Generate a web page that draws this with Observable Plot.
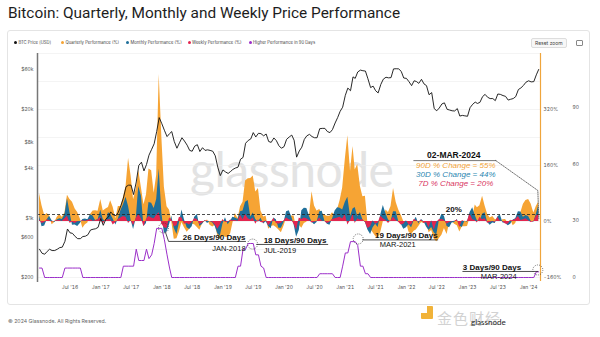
<!DOCTYPE html>
<html><head><meta charset="utf-8">
<script src="https://cdn.jsdelivr.net/npm/d3@7"></script>
<script src="https://cdn.jsdelivr.net/npm/@observablehq/plot@0.6"></script>
<style>
body{margin:0;background:#fff;}
#page{position:relative;width:600px;height:337px;overflow:hidden;font-family:"Liberation Sans",Roboto,sans-serif;}
#title{position:absolute;left:8px;top:4px;font-family:Roboto,sans-serif;font-size:15.4px;color:#1d1d1d;white-space:nowrap;}
#card{position:absolute;left:7px;top:30px;width:583px;height:275px;border:1px solid #e4e4e4;border-radius:3px;box-sizing:border-box;}
.leg{position:absolute;top:39.5px;font-size:4.2px;color:#444;white-space:nowrap;font-family:Inter,sans-serif;}
.dot{display:inline-block;width:3px;height:3px;border-radius:50%;margin-right:1.5px;vertical-align:middle;}
#reset{position:absolute;left:531px;top:38px;font-size:5px;color:#444;border:0.5px solid #ddd;border-radius:2px;padding:1px 3px;background:#f7f7f7;font-family:Inter,sans-serif;}
#menu{position:absolute;left:576px;top:40px;width:5px;height:4px;border:0.6px solid #888;border-radius:1px;}
#wm{position:absolute;left:190px;top:140px;font-family:Lato,sans-serif;font-size:48px;color:#e3e3e3;letter-spacing:-0.5px;}
#foot{position:absolute;left:8px;top:318px;font-size:5.2px;color:#666;font-family:Inter,sans-serif;}
#logo1{position:absolute;left:421px;top:306px;width:12px;height:13px;background:#f1b339;border-radius:1px;}
#logo1 i{position:absolute;left:0;top:0;width:6px;height:7px;background:#fff;}
#logo2{position:absolute;left:437px;top:307px;font-family:"Noto Sans CJK SC",sans-serif;font-size:15px;color:#d2d2d2;letter-spacing:1px;}
#logo3{position:absolute;left:471px;top:317px;font-family:Lato,sans-serif;font-size:8px;color:#222;}
#plots svg{position:absolute;left:0;top:0;}
</style></head>
<body><div id="page">
<div id="title">Bitcoin: Quarterly, Monthly and Weekly Price Performance</div>
<div id="card"></div>
<div id="wm">glassnode</div>
<div class="leg" style="left:14px"><span class="dot" style="background:#111"></span>BTC Price [USD]</div>
<div class="leg" style="left:61px"><span class="dot" style="background:#f6a434"></span>Quarterly Performance (%)</div>
<div class="leg" style="left:126px"><span class="dot" style="background:#1f6f9a"></span>Monthly Performance (%)</div>
<div class="leg" style="left:187.5px"><span class="dot" style="background:#e3254f"></span>Weekly Performance (%)</div>
<div class="leg" style="left:248.5px"><span class="dot" style="background:#9b2fc9"></span>Higher Performance in 90 Days</div>
<div id="reset">Reset zoom</div><div id="menu"></div>
<div id="plots" style="position:absolute;left:0;top:0;width:600px;height:300px;"></div>
<div id="foot">© 2024 Glassnode. All Rights Reserved.</div>
<div id="logo1"><i></i></div><div id="logo2">金色财经</div><div id="logo3">glassnode</div>
</div>
<script>
// semi-monthly samples (1st and 16th of each month), Jan 2016 .. Mar 2024
const priceUSD = [
 430,385,375,405,430,415,415,430,450,455,535,750,675,665,610,575,575,610,615,640,730,745,755,785,
 1000,830,990,1040,1200,1110,1080,1190,1420,1750,2400,2500,2500,1930,2730,4300,4700,3700,4400,5700,6700,7800,10900,16000,
 13500,11300,9500,10300,10900,8300,6900,8000,9200,8400,7500,6500,6350,7300,7600,6300,7000,6500,6600,6500,6350,5600,4100,3250,
 3800,3600,3450,3650,3850,4000,4100,5100,5350,7900,8550,8900,10600,9400,10400,10300,9700,10200,8300,8100,9150,8500,7400,6900,
 7200,8800,9400,9900,8600,5400,6400,7100,8800,9700,10100,9500,9200,9200,11800,11900,11900,10900,10600,11500,13800,16000,19000,21300,
 29500,36000,33500,49000,47000,56000,59000,58000,57500,46500,36500,38000,33500,31500,39800,46000,48500,47700,48000,61000,61300,61000,57000,47500,
 47000,43000,38500,44000,43200,41000,45800,40400,38500,30000,31800,20500,19300,20800,23300,24000,20100,19700,19300,19200,20500,16700,17000,16800,
 16600,21000,23100,24500,23600,24300,28500,30300,28000,27000,27000,25500,30600,30300,29300,28700,25900,26500,27000,28500,34600,36200,38700,42300,
 44000,42700,43000,51800,60000];
const quarterlyPct = [
 79,45,17,23,16,-9,-3,12,20,12,24,75,63,55,36,26,7,-19,-9,-4,20,30,31,29,
 63,30,36,40,59,41,8,43,43,68,100,180,131,62,92,146,96,48,76,150,145,81,132,420,
 240,98,42,32,0,-51,-49,-29,-3,-18,-31,-22,-8,-9,-17,-25,-7,0,4,-11,-16,-11,-41,-50,
 -42,-45,-46,-35,-6,23,8,42,55,116,122,123,130,84,94,30,13,15,-22,-14,-12,-17,-24,-32,
 -13,9,3,16,16,-22,-11,-19,-6,-2,17,85,44,30,34,23,18,15,15,25,17,34,60,95,
 178,245,143,214,147,163,100,71,72,-5,-22,-32,-43,-49,-31,-1,33,26,43,94,54,33,18,0,
 -2,-30,-37,-28,-24,-14,-3,-6,0,-32,-26,-50,-58,-49,-39,-20,-37,-4,0,-8,-12,-30,-15,-15,
 -14,9,13,47,39,45,72,44,21,10,14,5,7,0,5,6,-4,4,-12,-6,18,26,49,60,
 63,50,24,43,55];
const monthlyPct = [
 16,-15,-13,5,15,2,-3,4,8,6,19,65,26,-11,-10,-14,-6,6,7,5,19,16,3,5,
 32,6,-1,25,21,7,-10,7,31,47,69,43,4,-23,9,100,72,-14,-6,54,52,37,63,150,
 24,-34,-30,-9,15,-19,-37,-4,33,5,-18,-23,-15,12,20,-14,-8,3,-6,0,-4,-14,-35,-42,
 -7,11,-9,1,12,10,6,28,30,55,60,13,24,6,-2,10,-7,-1,-14,-21,10,5,-19,-19,
 -3,28,31,13,-9,-45,-26,31,38,37,15,-2,-9,-3,28,29,1,-8,-11,6,30,39,38,33,
 55,69,14,36,40,14,26,4,-3,-24,-37,-18,-8,-17,19,46,22,4,-1,28,28,0,-7,-22,
 -18,-9,-18,2,12,-7,6,-1,-16,-26,-17,-32,-39,1,21,15,-14,-18,-4,-3,6,-13,-17,1,
 -2,25,39,17,2,-1,21,25,-2,-11,-4,-6,13,19,-4,-5,-12,-8,4,8,28,27,12,17,
 14,1,-2,21,44];
const weeklyPct = [
 4,-6,-3,5,3,-2,1,2,3,0,8,15,-5,-2,-6,-1,0,2,1,3,6,1,2,5,
 12,-8,5,4,6,-10,-3,6,10,14,12,-6,3,-12,9,20,8,-15,6,14,10,8,18,25,
 -8,-18,-20,10,5,-15,-12,12,10,-8,-6,-10,-3,8,6,-9,-4,2,1,0,-2,-10,-22,-10,
 6,-3,-2,4,2,3,1,18,5,20,8,4,10,-8,5,-3,-4,3,-12,-3,9,-6,-8,-5,
 2,10,5,3,-8,-25,10,6,10,8,3,-4,-2,0,10,1,0,-6,-2,6,8,10,12,7,
 20,-10,3,20,-6,8,4,5,-3,-20,-15,2,-8,-4,15,8,3,-6,2,12,3,-2,-10,-8,
 2,-9,-10,6,3,-2,4,-6,-3,-18,2,-25,-3,5,6,3,-8,-3,-1,1,4,-18,3,-1,
 1,22,5,3,-4,12,5,8,-5,-3,0,-3,12,1,-1,-7,-8,2,3,6,14,3,5,8,
 2,-3,-1,15,20];
const higherDays = [
 5,5,0,0,0,0,0,0,0,0,5,5,5,5,5,5,5,0,0,0,0,0,0,0,
 0,0,0,0,0,0,0,0,0,6,6,6,6,6,15,9,9,9,15,10,12,18,26,26,
 26,20,12,5,0,0,0,0,0,0,0,0,0,0,0,0,0,0,0,0,0,0,0,0,
 0,0,0,0,0,0,6,6,15,15,18,18,18,12,12,6,5,0,0,0,0,0,0,0,
 0,0,0,0,0,0,0,0,0,0,0,0,0,0,2,2,2,2,2,2,0,0,0,6,
 13,13,19,19,19,17,6,6,2,2,0,0,0,0,0,0,0,0,0,0,0,0,0,0,
 0,0,0,0,0,0,0,0,0,0,0,0,0,0,0,0,0,0,0,0,0,0,0,0,
 0,0,0,0,0,0,0,0,0,0,0,0,0,0,0,0,0,0,0,0,0,0,0,0,
 0,0,0,3,3];
const priceTicks = [200,600,1000,4000,8000,20000,60000];
const priceTickLabels = ["$200","$600","$1k","$4k","$8k","$20k","$60k"];
const perfTicks = [-160,0,160,320];
const perfGrid = [-160,-80,0,80,160,240,320,400,480];
const dayTicks = [0,30,60,90];
const xTickDates = ["2016-07-01","2017-01-01","2017-07-01","2018-01-01","2018-07-01","2019-01-01","2019-07-01","2020-01-01","2020-07-01","2021-01-01","2021-07-01","2022-01-01","2022-07-01","2023-01-01","2023-07-01","2024-01-01"];

const D = s => new Date(s + "T00:00:00Z");
const data = priceUSD.map((p, i) => ({
  date: new Date(Date.UTC(2016 + Math.floor(i / 24), Math.floor((i % 24) / 2), i % 2 ? 16 : 1)),
  price: p, q: quarterlyPct[i], m: monthlyPct[i], w: weeklyPct[i], days: higherDays[i]
}));
const xDomain = [D("2015-12-20"), D("2024-03-12")];
const base = {width: 600, height: 300, marginLeft: 37, marginRight: 60, marginTop: 53, marginBottom: 19,
  style: {background: "transparent", overflow: "visible", fontFamily: "Inter, sans-serif"}};
const AF = "'Liberation Sans', Arial, sans-serif";

// performance (right axis %)
const perf = Plot.plot({...base,
  x: {type: "utc", domain: xDomain},
  y: {domain: [-160, 320], range: [277, 109]},
  marks: [
    Plot.ruleY(perfGrid, {stroke: "#ececec", strokeWidth: 0.6}),
    Plot.areaY(data, {x: "date", y: "q", fill: "#f6a434"}),
    Plot.areaY(data, {x: "date", y: "m", fill: "#1f6f9a"}),
    Plot.areaY(data, {x: "date", y: "w", fill: "#e3254f"}),
    Plot.ruleY([20], {stroke: "#222", strokeDasharray: "3,2", strokeWidth: 0.8}),
    Plot.ruleX([xDomain[1]], {stroke: "#efa53c", strokeWidth: 1.2}),
    Plot.axisY({anchor: "right", ticks: perfTicks, tickFormat: d => d + "%", tickSize: 0, tickPadding: 3, label: null, fontSize: 5, fill: "#555"}),
    Plot.axisX({ticks: xTickDates.map(D), tickFormat: d3.utcFormat("%b '%y"), tickSize: 0, tickPadding: 4, label: null, fontSize: 5, fill: "#555"}),
    Plot.text([{d: D("2022-10-11"), v: 34}], {x: "d", y: "v", text: () => "20%", fontWeight: "bold", fontSize: 8, fill: "#111", fontFamily: AF}),
    Plot.text([{d: D("2022-10-11"), v: 188.6}], {x: "d", y: "v", text: () => "02-MAR-2024", fontWeight: "bold", fontSize: 8.5, fill: "#111", fontFamily: AF}),
    Plot.line([{d: D("2022-02-14"), v: 174}, {d: D("2023-06-19"), v: 174}], {x: "d", y: "v", stroke: "#555", strokeWidth: 0.8}),
    Plot.line([{d: D("2023-06-19"), v: 174}, {d: D("2024-02-25"), v: 88.6}, {d: D("2024-03-02"), v: 8.6}], {x: "d", y: "v", stroke: "#333", strokeWidth: 0.7, strokeDasharray: "1,1.2"}),
    Plot.text([
      {d: D("2022-10-23"), v: 160, t: "90D % Change = 55%", c: "#f2a43a"},
      {d: D("2022-10-23"), v: 134, t: "30D % Change = 44%", c: "#2a86b0"},
      {d: D("2022-10-23"), v: 108.6, t: "7D % Change = 20%", c: "#d9365f"}
    ], {x: "d", y: "v", text: "t", fill: "c", fontStyle: "italic", fontSize: 8, fontFamily: AF})
  ]});

// price (left log axis)
const priceP = Plot.plot({...base, marginBottom: 18,
  x: {type: "utc", domain: xDomain, axis: null},
  y: {type: "log", domain: [200, 60000], range: [276.6, 69], axis: null},
  marks: [
    Plot.ruleX([xDomain[0]], {stroke: "#777", strokeWidth: 1.5}),
    Plot.line(data, {x: "date", y: "price", stroke: "#111", strokeWidth: 0.9}),
    Plot.text(priceTicks, {y: d => d, text: (d, i) => priceTickLabels[i], frameAnchor: "left", textAnchor: "end", dx: -4, fontSize: 5, fill: "#555"})
  ]});

// days (far right axis)
const annoTxt = [
  {d: D("2019-05-16"), v: 21.4, t: "26 Days/90 Days", a: "end", w: "bold", s: 8},
  {d: D("2019-05-16"), v: 15.4, t: "JAN-2018", a: "end", w: "normal", s: 7.5},
  {d: D("2019-09-01"), v: 19.6, t: "18 Days/90 Days", a: "start", w: "bold", s: 8},
  {d: D("2019-09-01"), v: 14.0, t: "JUL-2019", a: "start", w: "normal", s: 7.5},
  {d: D("2022-07-07"), v: 22.5, t: "19 Days/90 Days", a: "end", w: "bold", s: 8},
  {d: D("2021-11-10"), v: 17.2, t: "MAR-2021", a: "middle", w: "normal", s: 7.5},
  {d: D("2022-12-04"), v: 5.3, t: "3 Days/90 Days", a: "start", w: "bold", s: 8},
  {d: D("2023-03-21"), v: 0.5, t: "MAR-2024", a: "start", w: "normal", s: 7.5}
];
const annoLines = [
  {k: 1, d: D("2018-01-23"), v: 23.8}, {k: 1, d: D("2018-02-10"), v: 19.1}, {k: 1, d: D("2019-05-16"), v: 19.1},
  {k: 2, d: D("2019-07-21"), v: 17.5}, {k: 2, d: D("2020-09-18"), v: 17.5},
  {k: 3, d: D("2021-04-15"), v: 19.9}, {k: 3, d: D("2022-07-07"), v: 19.9},
  {k: 4, d: D("2022-12-04"), v: 3.2}, {k: 4, d: D("2024-02-25"), v: 3.2}
];
const circles = [
  {d: D("2018-01-11"), v: 26.2}, {d: D("2019-06-27"), v: 17.7}, {d: D("2021-03-19"), v: 20.4}, {d: D("2024-02-25"), v: 4.0}
];
const textGroups = [];
for (const a of ["start", "middle", "end"]) for (const w of ["bold", "normal"]) {
  const g = annoTxt.filter(o => o.a === a && o.w === w);
  if (g.length) textGroups.push(Plot.text(g, {x: "d", y: "v", text: "t", textAnchor: a, fontWeight: w, fontSize: w === "bold" ? 8 : 7.5, fill: "#111", fontFamily: AF}));
}
const daysP = Plot.plot({...base,
  x: {type: "utc", domain: xDomain, axis: null},
  y: {domain: [0, 90], range: [277, 107]},
  marks: [
    Plot.line(data, {x: "date", y: "days", stroke: "#9b2fc9", strokeWidth: 1}),
    Plot.axisY({anchor: "right", ticks: dayTicks, tickSize: 0, tickPadding: 32, label: null, fontSize: 5, fill: "#555"}),
    Plot.line(annoLines, {x: "d", y: "v", z: "k", stroke: "#222", strokeWidth: 0.8}),
    Plot.dot(circles, {x: "d", y: "v", r: 5, stroke: "#333", strokeWidth: 0.7, strokeDasharray: "1,1.2", fill: "none"}),
    ...textGroups
  ]});

const host = document.getElementById("plots");
host.append(perf, priceP, daysP);
</script>
</body></html>
